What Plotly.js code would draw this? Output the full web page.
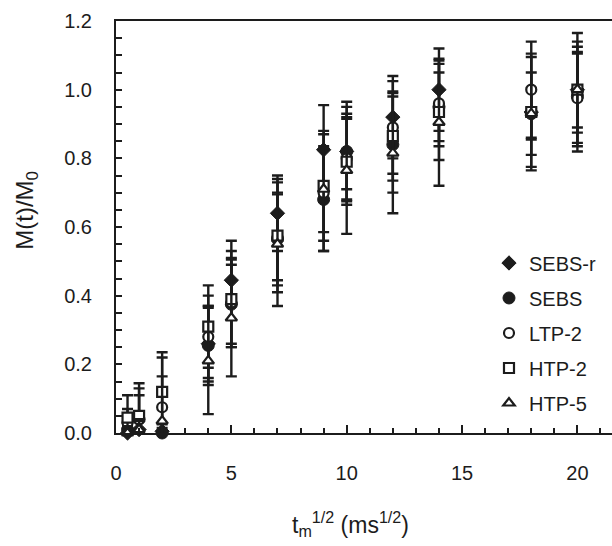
<!DOCTYPE html>
<html>
<head>
<meta charset="utf-8">
<script src="https://cdn.plot.ly/plotly-3.0.1.min.js"></script>
<style>html,body{margin:0;padding:0;background:#fff;}#chart{width:612px;height:546px;}</style>
</head>
<body>
<div id="chart"></div>
<script>
// x: t_m^(1/2) (ms^(1/2))
const xVals = [0.5, 1, 2, 4, 5, 7, 9, 10, 12, 14, 18, 20];

const seriesNames = ["SEBS-r", "SEBS", "LTP-2", "HTP-2", "HTP-5"];

// M(t)/M0 values and symmetric error
const sebsR    = [0.00, 0.01, 0.005, 0.26, 0.445, 0.64, 0.825, 0.82, 0.92, 1.00, 0.935, 1.00];
const sebsRErr = [0.02, 0.03, 0.02, 0.11, 0.115, 0.11, 0.13, 0.145, 0.12, 0.12, 0.17, 0.125];

const sebs     = [0.01, 0.04, 0.00, 0.255, 0.375, 0.565, 0.68, 0.82, 0.84, 0.95, 0.93, 0.98];
const sebsErr  = [0.03, 0.07, 0.015, 0.115, 0.115, 0.135, 0.15, 0.11, 0.14, 0.10, 0.075, 0.16];

const ltp2     = [0.03, 0.04, 0.075, 0.28, 0.38, 0.57, 0.70, 0.80, 0.89, 0.96, 1.00, 0.975];
const ltp2Err  = [0.04, 0.09, 0.145, 0.12, 0.13, 0.125, 0.17, 0.12, 0.135, 0.125, 0.14, 0.13];

const htp2     = [0.045, 0.05, 0.12, 0.31, 0.39, 0.575, 0.72, 0.79, 0.865, 0.935, 0.935, 1.00];
const htp2Err  = [0.065, 0.095, 0.115, 0.12, 0.14, 0.165, 0.16, 0.125, 0.13, 0.14, 0.16, 0.165];

const htp5     = [0.00, 0.01, 0.035, 0.21, 0.335, 0.55, 0.71, 0.765, 0.815, 0.905, 0.93, 1.00];
const htp5Err  = [0.02, 0.03, 0.13, 0.155, 0.17, 0.18, 0.125, 0.185, 0.175, 0.185, 0.12, 0.11];

const yTickVals = [0, 0.2, 0.4, 0.6, 0.8, 1.0, 1.2];
const yTickText = ["0.0", "0.2", "0.4", "0.6", "0.8", "1.0", "1.2"];
const xTickVals = [0, 5, 10, 15, 20];
const xTickText = ["0", "5", "10", "15", "20"];

const INK = "#1c1c1c";
const FONT = "Liberation Sans, Arial, sans-serif";

function errOpts(arr) {
  return {type: "data", array: arr, visible: true, color: INK, thickness: 2.4, width: 5.5};
}

const ys = [sebsR, sebs, ltp2, htp2, htp5];
const es = [sebsRErr, sebsErr, ltp2Err, htp2Err, htp5Err];
const markers = [
  {symbol: "diamond", size: 11, color: INK, line: {color: INK, width: 1}},
  {symbol: "circle", size: 12, color: INK, line: {color: INK, width: 1}},
  {symbol: "circle", size: 10, color: "#ffffff", line: {color: INK, width: 2.2}},
  {symbol: "square", size: 10, color: "#ffffff", line: {color: INK, width: 2.2}},
  {symbol: "triangle-up", size: 10, color: "#ffffff", line: {color: INK, width: 2.2}}
];

const traces = seriesNames.map((n, i) => ({
  type: "scatter",
  mode: "markers",
  name: n,
  legendgroup: "g" + i,
  x: xVals,
  y: ys[i],
  error_y: errOpts(es[i]),
  marker: markers[i],
  cliponaxis: false
}));

const layout = {
  width: 612,
  height: 546,
  margin: {l: 116, r: 0, t: 21, b: 113},
  paper_bgcolor: "#ffffff",
  plot_bgcolor: "#ffffff",
  font: {family: FONT, color: INK, size: 19},
  showlegend: true,
  legend: {
    x: 0.752, y: 0.46, xanchor: "left", yanchor: "top",
    font: {family: FONT, size: 20, color: INK},
    bgcolor: "rgba(0,0,0,0)",
    tracegroupgap: 6,
    itemwidth: 30
  },
  xaxis: {
    range: [0, 21.5],
    tickmode: "array", tickvals: xTickVals, ticktext: xTickText,
    ticks: "inside", ticklen: 8, tickwidth: 2, tickcolor: INK,
    minor: {dtick: 1, ticks: "inside", ticklen: 5, tickwidth: 2, tickcolor: INK},
    showline: true, linewidth: 2, linecolor: INK, mirror: true,
    showgrid: false, zeroline: false,
    ticklabelstandoff: 21,
    tickfont: {family: FONT, size: 20, color: INK}
  },
  yaxis: {
    range: [0, 1.2],
    tickmode: "array", tickvals: yTickVals, ticktext: yTickText,
    ticks: "inside", ticklen: 6, tickwidth: 2, tickcolor: INK,
    minor: {dtick: 0.05, ticks: "inside", ticklen: 6, tickwidth: 2, tickcolor: INK},
    showline: true, linewidth: 2, linecolor: INK,
    showgrid: false, zeroline: false,
    ticklabelstandoff: 18,
    tickfont: {family: FONT, size: 20, color: INK}
  },
  annotations: [
    {text: "M(t)/M<sub>0</sub>", textangle: -90, xref: "paper", yref: "paper",
     x: -0.181, y: 0.54, xanchor: "center", yanchor: "middle", showarrow: false,
     font: {family: FONT, size: 24, color: INK}},
    {text: "t<sub>m</sub><sup>1/2</sup> (ms<sup>1/2</sup>)", xref: "paper", yref: "paper",
     x: 0.472, y: -0.222, xanchor: "center", yanchor: "middle", showarrow: false,
     font: {family: FONT, size: 23, color: INK}}
  ]
};

Plotly.newPlot("chart", traces, layout, {displayModeBar: false, staticPlot: true});
</script>
</body>
</html>
